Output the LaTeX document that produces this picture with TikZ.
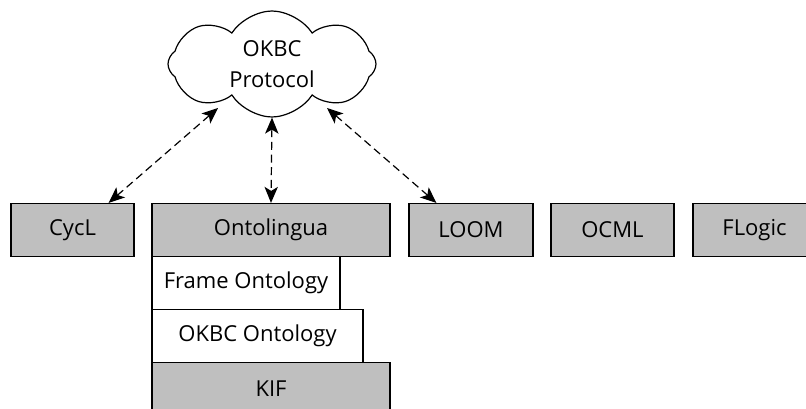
\documentclass[tikz,border=0pt]{standalone}
\usepackage{fontspec}
\setmainfont{Open Sans}
\usetikzlibrary{shapes.symbols,arrows.meta}

\begin{document}
\begin{tikzpicture}[
  x=0.75pt, y=-0.75pt,
  every node/.style={draw, line width=0.9pt, font=\fontsize{16.5}{20}\selectfont,
    inner sep=0pt, minimum height=53*0.75pt},
  lang/.style={fill=black!25},
  layer/.style={fill=white},
  proto/.style={cloud, cloud puffs=8, cloud puff arc=115, aspect=2,
    minimum width=208*0.75pt, minimum height=106*0.75pt, align=center,
    fill=white, font=\fontsize{16.5}{23}\selectfont},
  link/.style={{Stealth[length=12pt,width=10pt,inset=3pt]}-{Stealth[length=12pt,width=10pt,inset=3pt]},
    dashed, dash pattern=on 6pt off 3.5pt, line width=0.9pt}
  ]
  \useasboundingbox (0,0) rectangle (806,409);
  \clip (0,0) rectangle (806,409);

  % Define nodes
  \node[proto] (okbc) at (272,64) {OKBC\\Protocol};

  \node[lang, minimum width=123*0.75pt] (cycl) at (72.5,230) {CycL};
  \node[lang, minimum width=238*0.75pt] (onto) at (271,230) {Ontolingua};
  \node[lang, minimum width=124*0.75pt] (loom) at (471,230) {LOOM};
  \node[lang, minimum width=123*0.75pt] (ocml) at (612.5,230) {OCML};
  \node[lang, minimum width=123*0.75pt] (flogic) at (754.5,230) {FLogic};

  % Ontolingua layers
  \node[layer, minimum width=188*0.75pt] (frame) at (246,283) {Frame Ontology};
  \node[layer, minimum width=211*0.75pt] (okbcont) at (257.5,336) {OKBC Ontology};
  \node[lang, minimum width=238*0.75pt] (kif) at (271,389) {KIF};

  % Links to the protocol
  \draw[link] ([shift={(-54,44)}]okbc.center) -- ([xshift=-26*0.75pt]cycl.north east);
  \draw[link] (okbc.south) -- (onto.north);
  \draw[link] ([shift={(55,44)}]okbc.center) -- ([xshift=28*0.75pt]loom.north west);

\end{tikzpicture}
\end{document}
